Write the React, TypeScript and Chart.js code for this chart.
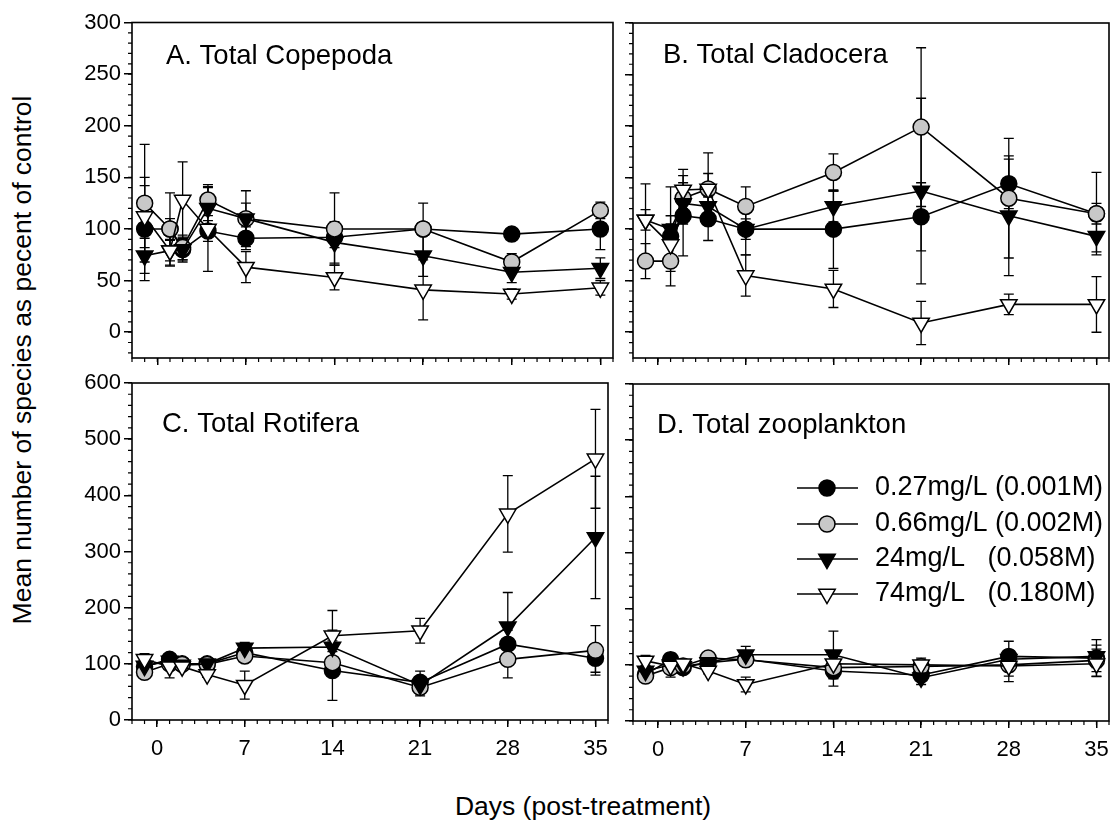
import React, { useEffect, useRef } from 'react';
import { Chart, registerables } from 'chart.js';

Chart.register(...registerables);

// ---------- data ----------
const days = [-1, 1, 2, 4, 7, 14, 21, 28, 35];
const xTickDays = [0, 7, 14, 21, 28, 35];
const yTicksTop = [0, 50, 100, 150, 200, 250, 300];
const yTicksBottom = [0, 100, 200, 300, 400, 500, 600];
const seriesLabels = ['0.27mg/L (0.001M)', '0.66mg/L (0.002M)', '24mg/L   (0.058M)', '74mg/L   (0.180M)'];

// A. Total Copepoda
const copeA027 = [100, 100, 80, 98, 91, 92, 100, 95, 100];
const copeA066 = [125, 100, 82, 128, 110, 100, 100, 68, 118];
const copeA24 = [74, 79, 80, 120, 110, 87, 74, 58, 62];
const copeA74 = [112, 79, 128, 100, 63, 53, 41, 37, 43];
const copeE027 = [50, 10, 10, 10, 11, 10, 0, 5, 20];
const copeE066 = [57, 35, 12, 15, 27, 35, 25, 8, 8];
const copeE24 = [17, 10, 12, 20, 15, 20, 20, 10, 10];
const copeE74 = [30, 15, 37, 41, 15, 12, 29, 5, 7];

// B. Total Cladocera
const cladB027 = [null, 93, 113, 110, 100, 100, 112, 144, 115];
const cladB066 = [69, 69, 130, 139, 122, 155, 199, 130, 115];
const cladB24 = [109, 100, 125, 122, 100, 122, 137, 113, 93];
const cladB74 = [109, 85, 138, 139, 55, 42, 9, 27, 27];
const cladE027 = [0, 20, 39, 21, 25, 38, 33, 24, 10];
const cladE066 = [17, 24, 10, 15, 19, 18, 77, 58, 40];
const cladE24 = [10, 41, 20, 10, 10, 15, 90, 58, 15];
const cladE74 = [35, 20, 20, 35, 20, 18, 21, 10, 27];

// C. Total Rotifera
const rotC027 = [95, 108, 100, 100, 120, 88, 67, 135, 110];
const rotC066 = [85, 100, 99, 99, 114, 102, 58, 108, 124];
const rotC24 = [96, 105, 98, 100, 128, 130, 62, 166, 325];
const rotC74 = [108, 95, 95, 81, 62, 150, 159, 367, 465];
const rotE027 = [10, 10, 5, 5, 10, 53, 20, 25, 25];
const rotE066 = [10, 10, 5, 5, 10, 20, 15, 33, 44];
const rotE24 = [10, 10, 5, 5, 10, 30, 15, 61, 109];
const rotE74 = [10, 20, 5, 5, 25, 45, 22, 68, 88];

// D. Total zooplankton
const zooD027 = [83, 109, 95, 104, 110, 89, 82, 115, 112];
const zooD066 = [80, 95, 98, 112, 109, 95, 97, 100, 108];
const zooD24 = [89, 100, 97, 104, 118, 118, 77, 110, 115];
const zooD74 = [107, 98, 102, 89, 65, 102, 100, 98, 102];
const zooE027 = [10, 12, 5, 5, 10, 27, 10, 27, 33];
const zooE066 = [10, 10, 5, 5, 10, 20, 10, 20, 20];
const zooE24 = [10, 10, 5, 5, 15, 42, 12, 15, 20];
const zooE74 = [10, 20, 5, 5, 13, 20, 12, 28, 22];

// ---------- styles ----------
const FONT = '"Liberation Sans", Arial, Helvetica, sans-serif';
const fills = ['#000000', '#c8c8c8', '#000000', '#ffffff'];
const shapes = ['circle', 'circle', 'triangle', 'triangle'];
const rotations = [0, 0, 180, 180];
const radii = [8, 8, 9.5, 9.5];
const orders = [3, 2, 1, 0];

function makeDatasets(values: (number | null)[][], errors: number[][]) {
  return values.map((vals, i) => ({
    label: seriesLabels[i],
    data: days.map((d, j) => ({ x: d, y: vals[j] })),
    errors: errors[i],
    borderColor: '#000',
    borderWidth: 1.6,
    pointStyle: shapes[i],
    pointRotation: rotations[i],
    pointRadius: radii[i],
    pointBackgroundColor: fills[i],
    pointBorderColor: '#000',
    pointBorderWidth: 1.5,
    order: orders[i],
    tension: 0,
    fill: false,
    spanGaps: false,
  }));
}

function drawMarker(ctx: CanvasRenderingContext2D, style: string, r: number, fill: string, x: number, y: number) {
  ctx.beginPath();
  if (style === 'circle') {
    ctx.arc(x, y, r, 0, Math.PI * 2);
  } else {
    let rad = Math.PI;
    const third = (Math.PI * 2) / 3;
    ctx.moveTo(x + Math.sin(rad) * r, y - Math.cos(rad) * r);
    rad += third;
    ctx.lineTo(x + Math.sin(rad) * r, y - Math.cos(rad) * r);
    rad += third;
    ctx.lineTo(x + Math.sin(rad) * r, y - Math.cos(rad) * r);
    ctx.closePath();
  }
  ctx.fillStyle = fill;
  ctx.fill();
  ctx.lineWidth = 1.5;
  ctx.strokeStyle = '#000';
  ctx.stroke();
}

const decorPlugin = {
  id: 'decor',
  beforeDatasetsDraw(chart: any) {
    const xs = chart.scales.x;
    const ys = chart.scales.y;
    const ctx = chart.ctx;
    ctx.save();
    ctx.strokeStyle = '#000';
    ctx.lineWidth = 1.3;
    chart.data.datasets.forEach((ds: any) => {
      ds.data.forEach((p: any, j: number) => {
        const e = ds.errors ? ds.errors[j] : 0;
        if (!e || p.y === null || p.y === undefined) return;
        const x = xs.getPixelForValue(p.x);
        const y1 = ys.getPixelForValue(p.y + e);
        const y2 = ys.getPixelForValue(p.y - e);
        ctx.beginPath();
        ctx.moveTo(x, y1);
        ctx.lineTo(x, y2);
        ctx.moveTo(x - 5, y1);
        ctx.lineTo(x + 5, y1);
        ctx.moveTo(x - 5, y2);
        ctx.lineTo(x + 5, y2);
        ctx.stroke();
      });
    });
    ctx.restore();
  },
  afterDraw(chart: any, _args: any, opts: any) {
    const ctx = chart.ctx;
    const a = chart.chartArea;
    const xs = chart.scales.x;
    const ys = chart.scales.y;
    ctx.save();
    ctx.strokeStyle = '#000';
    ctx.lineWidth = 1.6;
    ctx.strokeRect(a.left, a.top, a.right - a.left, a.bottom - a.top);
    // minor ticks
    ctx.lineWidth = 1.2;
    ctx.beginPath();
    for (let d = Math.ceil(xs.min); d <= xs.max; d += 1) {
      const x = xs.getPixelForValue(d);
      ctx.moveTo(x, a.bottom);
      ctx.lineTo(x, a.bottom + 4);
    }
    for (let v = opts.yMinorStart; v <= ys.max + 0.001; v += opts.yMinorStep) {
      const y = ys.getPixelForValue(v);
      ctx.moveTo(a.left, y);
      ctx.lineTo(a.left - 4, y);
    }
    ctx.stroke();
    // panel title
    ctx.fillStyle = '#000';
    ctx.font = '27.5px ' + FONT;
    ctx.textAlign = 'left';
    ctx.textBaseline = 'alphabetic';
    ctx.fillText(opts.title, a.left + opts.tx, a.top + opts.ty);
    // legend
    if (opts.legend) {
      const rows = [104, 140, 175, 210];
      chart.data.datasets.forEach((ds: any, i: number) => {
        const y = a.top + rows[i];
        const x0 = a.left + 164;
        const x1 = a.left + 225;
        const xm = a.left + 194;
        ctx.strokeStyle = '#000';
        ctx.lineWidth = 1.6;
        ctx.beginPath();
        ctx.moveTo(x0, y);
        ctx.lineTo(x1, y);
        ctx.stroke();
        drawMarker(ctx, ds.pointStyle, ds.pointRadius, ds.pointBackgroundColor, xm, y);
        ctx.fillStyle = '#000';
        ctx.font = '27px ' + FONT;
        ctx.textBaseline = 'middle';
        ctx.textAlign = 'left';
        ctx.fillText(ds.label, a.left + 242, y);
      });
    }
    ctx.restore();
  },
};

type PanelProps = {
  left: number;
  top: number;
  width: number;
  height: number;
  padTop: number;
  padRight: number;
  yWidth: number;
  xHeight: number;
  yMin: number;
  yMax: number;
  yTicks: number[];
  yMinorStart: number;
  yMinorStep: number;
  showY: boolean;
  showX: boolean;
  values: (number | null)[][];
  errors: number[][];
  title: string;
  tx: number;
  ty: number;
  legend: boolean;
};

function Panel(p: PanelProps) {
  const ref = useRef<HTMLCanvasElement | null>(null);
  useEffect(() => {
    if (!ref.current) return;
    const tickFont = { family: FONT, size: 22 };
    const chart = new Chart(ref.current, {
      type: 'line',
      data: { datasets: makeDatasets(p.values, p.errors) as any },
      options: {
        responsive: false,
        animation: false,
        devicePixelRatio: 1,
        layout: { padding: { top: p.padTop, right: p.padRight, bottom: 0, left: 0 } },
        plugins: {
          legend: { display: false },
          tooltip: { enabled: false },
          decor: {
            title: p.title,
            tx: p.tx,
            ty: p.ty,
            legend: p.legend,
            yMinorStart: p.yMinorStart,
            yMinorStep: p.yMinorStep,
          },
        } as any,
        scales: {
          x: {
            type: 'linear',
            min: -2,
            max: 36,
            afterBuildTicks: (s: any) => {
              s.ticks = xTickDays.map((v) => ({ value: v }));
            },
            afterFit: (s: any) => {
              s.height = p.xHeight;
            },
            border: { display: false },
            grid: { drawOnChartArea: false, drawTicks: true, tickLength: 7, color: '#000', lineWidth: 1.5 },
            ticks: { display: p.showX, color: '#000', font: tickFont, padding: 9, maxRotation: 0, autoSkip: false },
          },
          y: {
            type: 'linear',
            min: p.yMin,
            max: p.yMax,
            afterBuildTicks: (s: any) => {
              s.ticks = p.yTicks.map((v) => ({ value: v }));
            },
            afterFit: (s: any) => {
              s.width = p.yWidth;
            },
            border: { display: false },
            grid: { drawOnChartArea: false, drawTicks: true, tickLength: 8, color: '#000', lineWidth: 1.5 },
            ticks: { display: p.showY, color: '#000', font: tickFont, padding: 3, autoSkip: false },
          },
        },
      } as any,
      plugins: [decorPlugin as any],
    });
    return () => chart.destroy();
  }, []);
  return (
    <canvas
      ref={ref}
      width={p.width}
      height={p.height}
      style={{ position: 'absolute', left: p.left, top: p.top, width: p.width, height: p.height }}
    />
  );
}

export default function App() {
  return (
    <div
      style={{
        position: 'absolute',
        left: 0,
        top: 0,
        width: 1120,
        height: 836,
        background: '#fff',
        overflow: 'hidden',
        fontFamily: FONT,
        color: '#000',
      }}
    >
      <Panel
        left={60} top={0} width={565} height={375}
        padTop={22.5} padRight={12} yWidth={72} xHeight={17}
        yMin={-25} yMax={300} yTicks={yTicksTop} yMinorStart={-20} yMinorStep={10}
        showY={true} showX={false}
        values={[copeA027, copeA066, copeA24, copeA74]}
        errors={[copeE027, copeE066, copeE24, copeE74]}
        title="A. Total Copepoda" tx={34} ty={41} legend={false}
      />
      <Panel
        left={620} top={0} width={500} height={375}
        padTop={23} padRight={8} yWidth={13} xHeight={17}
        yMin={-25} yMax={300} yTicks={yTicksTop} yMinorStart={-20} yMinorStep={10}
        showY={false} showX={false}
        values={[cladB027, cladB066, cladB24, cladB74]}
        errors={[cladE027, cladE066, cladE24, cladE74]}
        title="B. Total Cladocera" tx={30} ty={40} legend={false}
      />
      <Panel
        left={60} top={365} width={565} height={400}
        padTop={18} padRight={17} yWidth={72} xHeight={45}
        yMin={0} yMax={600} yTicks={yTicksBottom} yMinorStart={0} yMinorStep={20}
        showY={true} showX={true}
        values={[rotC027, rotC066, rotC24, rotC74]}
        errors={[rotE027, rotE066, rotE24, rotE74]}
        title="C. Total Rotifera" tx={30} ty={49} legend={false}
      />
      <Panel
        left={620} top={365} width={500} height={400}
        padTop={19} padRight={8} yWidth={13} xHeight={44}
        yMin={0} yMax={600} yTicks={yTicksBottom} yMinorStart={0} yMinorStep={20}
        showY={false} showX={true}
        values={[zooD027, zooD066, zooD24, zooD74]}
        errors={[zooE027, zooE066, zooE24, zooE74]}
        title="D. Total zooplankton" tx={24} ty={49} legend={true}
      />
      <div
        style={{
          position: 'absolute',
          left: 22,
          top: 360,
          transform: 'translate(-50%, -50%) rotate(-90deg)',
          whiteSpace: 'nowrap',
          fontSize: 26.5,
          lineHeight: '30px',
        }}
      >
        Mean number of species as pecent of control
      </div>
      <div
        style={{
          position: 'absolute',
          left: 583,
          top: 806,
          transform: 'translate(-50%, -50%)',
          whiteSpace: 'nowrap',
          fontSize: 26.5,
          lineHeight: '30px',
        }}
      >
        Days (post-treatment)
      </div>
    </div>
  );
}
